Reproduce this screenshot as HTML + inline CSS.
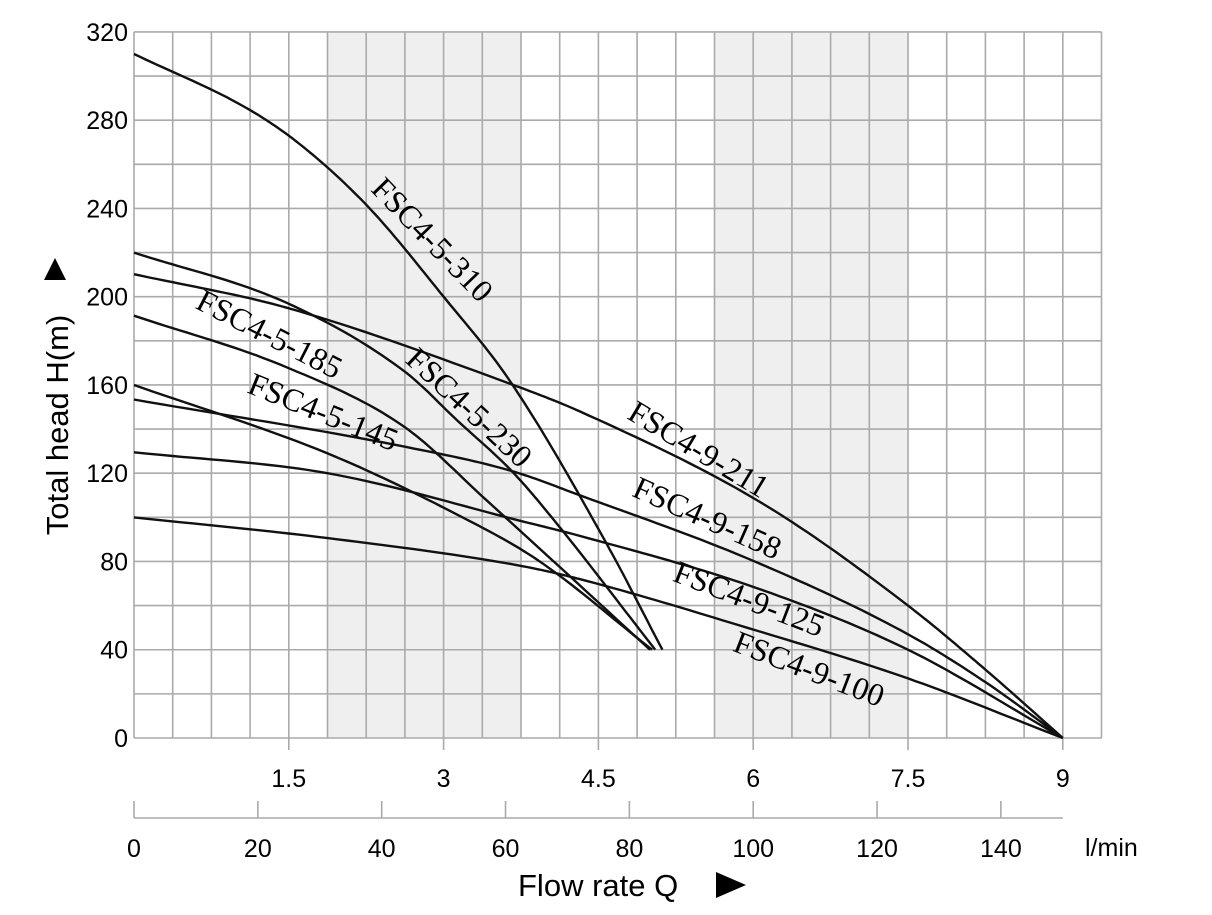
<!DOCTYPE html>
<html><head><meta charset="utf-8"><style>
html,body{margin:0;padding:0;background:#fff;}
svg{display:block;}
.t{font-family:"Liberation Sans",sans-serif;font-size:25px;fill:#000;}
.l{font-family:"Liberation Serif",serif;font-size:32px;fill:#000;}
</style></head><body>
<svg id="s" width="1212" height="915" viewBox="0 0 1212 915" xmlns="http://www.w3.org/2000/svg">
<g id="bg"></g>
<g id="grid" stroke="#aaa" stroke-width="1.6" fill="none"></g>
<g id="curves" stroke="#111" stroke-width="2.4" fill="none"></g>
<g id="txt"></g>
<text class="l" transform="translate(430,242) rotate(46)" text-anchor="middle" dominant-baseline="middle">FSC4-5-310</text>
<text class="l" transform="translate(268,337) rotate(27)" text-anchor="middle" dominant-baseline="middle">FSC4-5-185</text>
<text class="l" transform="translate(467,410) rotate(43)" text-anchor="middle" dominant-baseline="middle">FSC4-5-230</text>
<text class="l" transform="translate(322,415) rotate(22)" text-anchor="middle" dominant-baseline="middle">FSC4-5-145</text>
<text class="l" transform="translate(697,452) rotate(31)" text-anchor="middle" dominant-baseline="middle">FSC4-9-211</text>
<text class="l" transform="translate(706,521) rotate(24)" text-anchor="middle" dominant-baseline="middle">FSC4-9-158</text>
<text class="l" transform="translate(748,602) rotate(21)" text-anchor="middle" dominant-baseline="middle">FSC4-9-125</text>
<text class="l" transform="translate(808,672) rotate(21)" text-anchor="middle" dominant-baseline="middle">FSC4-9-100</text>
<text class="t" style="font-size:31px" transform="translate(68,425) rotate(-90)" text-anchor="middle">Total head H(m)</text>
<polygon points="44,280 66,280 55,258" fill="#000"/>
<text class="t" style="font-size:31px" x="518" y="896">Flow rate Q</text>
<polygon points="716,872 716,898 746,885" fill="#000"/>
<text class="t" x="1085" y="856">l/min</text>
</svg>
<script>
var X0=134,XS=103.2,Y0=738,YS=2.2065;
function px(q){return X0+q*XS;} function py(h){return Y0-h*YS;}
var NS="http://www.w3.org/2000/svg";
function el(p,tag,a,txt){var e=document.createElementNS(NS,tag);for(var k in a)e.setAttribute(k,a[k]);if(txt!==undefined)e.textContent=txt;document.getElementById(p).appendChild(e);return e;}
var R=px(9.375);
el('bg','rect',{x:px(1.875),y:py(320),width:px(3.75)-px(1.875),height:py(0)-py(320),fill:'#efefef'});
el('bg','rect',{x:px(5.625),y:py(320),width:px(7.5)-px(5.625),height:py(0)-py(320),fill:'#efefef'});
for(var i=0;i<=25;i++){var x=px(i*0.375);el('grid','line',{x1:x,y1:py(320),x2:x,y2:py(0)});}
for(var j=0;j<=16;j++){var y=py(j*20);el('grid','line',{x1:X0,y1:y,x2:R,y2:y});}
for(var q=1.5;q<=9;q+=1.5){el('grid','line',{x1:px(q),y1:738,x2:px(q),y2:750});
 el('txt','text',{'class':'t',x:px(q),y:787,'text-anchor':'middle'},String(q));}
for(var h=0;h<=320;h+=40){el('txt','text',{'class':'t',x:128,y:py(h)+9,'text-anchor':'end'},String(h));}
el('grid','line',{x1:X0,y1:818,x2:px(9),y2:818});
for(var f=0;f<=140;f+=20){var x=X0+f*(px(9)-X0)/150;el('grid','line',{x1:x,y1:801,x2:x,y2:818});
 el('txt','text',{'class':'t',x:x,y:857,'text-anchor':'middle'},String(f));}
var C=[
[[0,310],[1.12,284.7],[1.61,269],[2.27,240.7],[3.0,200],[3.64,162],[4.58,88],[5.12,40]],
[[0,220],[1.49,197],[2.625,166],[3.13,144],[3.67,120.5],[4.1,97],[5.05,40]],
[[0,191.4],[1.48,168],[2.62,141],[3.41,108],[5.0,40]],
[[0,160],[1.875,129],[3.1,102],[3.9,81],[5.02,40]],
[[0,210.2],[1.48,195],[3.64,160.6],[4.32,148],[6.1,106],[7.5,60],[8.26,30.6],[9,0]],
[[0,153.4],[2.625,132],[3.66,121],[4.32,110],[6.0,80.3],[7.5,47],[8.26,25],[9,0]],
[[0,129.5],[1.875,120],[3.78,98],[4.32,91.6],[6.03,68],[7.5,40],[9,0]],
[[0,100],[1.875,90.6],[3.75,78],[4.32,72],[5.94,50],[7.5,27],[9,0]]];
function mono(P){var n=P.length,d=[],m=[];
 for(var i=0;i<n-1;i++)d.push((P[i+1][1]-P[i][1])/(P[i+1][0]-P[i][0]));
 m[0]=d[0];m[n-1]=d[n-2];
 for(var i=1;i<n-1;i++){m[i]=(d[i-1]*d[i]<=0)?0:(d[i-1]+d[i])/2;}
 for(var i=0;i<n-1;i++){if(d[i]==0){m[i]=m[i+1]=0;continue;}var a=m[i]/d[i],b=m[i+1]/d[i],s=a*a+b*b;if(s>9){var t=3/Math.sqrt(s);m[i]=t*a*d[i];m[i+1]=t*b*d[i];}}
 var out=[];
 for(var i=0;i<n-1;i++){var h=P[i+1][0]-P[i][0];for(var k=0;k<20;k++){var t=k/20,t2=t*t,t3=t2*t;
  var y=(2*t3-3*t2+1)*P[i][1]+(t3-2*t2+t)*h*m[i]+(-2*t3+3*t2)*P[i+1][1]+(t3-t2)*h*m[i+1];
  out.push([px(P[i][0]+t*h),py(y)]);}}
 out.push([px(P[n-1][0]),py(P[n-1][1])]);return out;}
C.forEach(function(c){var o=mono(c);
 el('curves','path',{d:'M'+o.map(function(p){return p[0].toFixed(1)+','+p[1].toFixed(1);}).join(' L')});});
</script>
</body></html>
